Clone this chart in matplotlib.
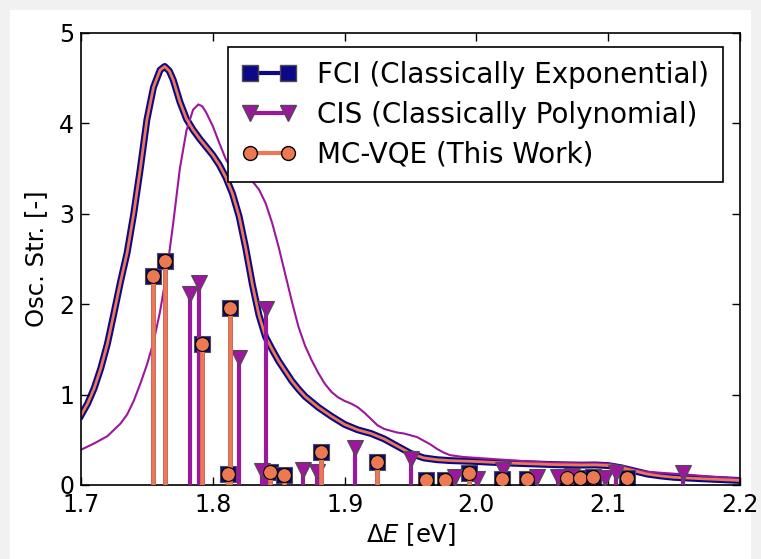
# Oscillator strength spectrum: FCI vs CIS vs MC-VQE

import matplotlib
matplotlib.use('Agg')
import matplotlib.pyplot as plt
from matplotlib.lines import Line2D
from matplotlib.patches import Rectangle

# ------ colours (plasma) ------
c_fci = '#0d0887'
c_cis = '#9c179e'
c_vqe = '#ed7953'

# ------ stick spectra ------
fci_E = [1.7544, 1.7637, 1.7916, 1.8115, 1.8131, 1.8434, 1.8543, 1.8820, 1.9243,
         1.9617, 1.9762, 1.9946, 2.0192, 2.0382, 2.0685, 2.0786, 2.0887, 2.1145]
fci_f = [2.31, 2.48, 1.56, 0.12, 1.96, 0.14, 0.11, 0.36, 0.25,
         0.05, 0.05, 0.13, 0.07, 0.07, 0.08, 0.08, 0.09, 0.08]

vqe_E = [1.7544, 1.7637, 1.7916, 1.8115, 1.8131, 1.8434, 1.8543, 1.8820, 1.9243,
         1.9617, 1.9762, 1.9946, 2.0192, 2.0382, 2.0685, 2.0786, 2.0887, 2.1145]
vqe_f = [2.31, 2.48, 1.56, 0.12, 1.96, 0.14, 0.11, 0.36, 0.25,
         0.05, 0.05, 0.13, 0.07, 0.07, 0.08, 0.08, 0.09, 0.08]

cis_E = [1.7827, 1.7895, 1.8201, 1.8375, 1.8401, 1.8687, 1.8793, 1.9079, 1.9504,
         1.9838, 2.0002, 2.0202, 2.0457, 2.0620, 2.0723, 2.0976, 2.1060, 2.1570]
cis_f = [2.11, 2.23, 1.40, 0.16, 1.95, 0.17, 0.14, 0.41, 0.29,
         0.09, 0.07, 0.17, 0.09, 0.09, 0.10, 0.08, 0.13, 0.13]

# ------ broadened spectra ------
fci_curve_E = [1.700, 1.705, 1.710, 1.715, 1.720, 1.725, 1.730, 1.735, 1.740, 1.745,
               1.750, 1.755, 1.760, 1.7635, 1.767, 1.770, 1.775, 1.780, 1.785, 1.790,
               1.795, 1.800, 1.805, 1.810, 1.815, 1.820, 1.825, 1.830, 1.835, 1.840,
               1.845, 1.850, 1.855, 1.860, 1.865, 1.870, 1.875, 1.880, 1.890, 1.900,
               1.910, 1.920, 1.930, 1.940, 1.950, 1.960, 1.970, 1.980, 2.000, 2.020,
               2.040, 2.060, 2.080, 2.090, 2.100, 2.110, 2.120, 2.130, 2.140, 2.150,
               2.170, 2.200]
fci_curve_f = [0.77, 0.90, 1.07, 1.29, 1.56, 1.90, 2.25, 2.57, 3.00, 3.50,
               4.04, 4.40, 4.59, 4.63, 4.58, 4.48, 4.24, 4.05, 3.93, 3.83,
               3.74, 3.65, 3.54, 3.40, 3.22, 2.97, 2.62, 2.22, 1.88, 1.64,
               1.50, 1.37, 1.26, 1.15, 1.06, 0.98, 0.92, 0.86, 0.76, 0.67,
               0.61, 0.57, 0.51, 0.43, 0.35, 0.30, 0.28, 0.27, 0.26, 0.245,
               0.235, 0.225, 0.22, 0.222, 0.215, 0.19, 0.155, 0.12, 0.10, 0.085,
               0.07, 0.05]

cis_curve_E = [1.700, 1.710, 1.720, 1.730, 1.735, 1.740, 1.745, 1.750, 1.755, 1.760,
               1.765, 1.770, 1.775, 1.780, 1.785, 1.789, 1.792, 1.795, 1.800, 1.805,
               1.810, 1.815, 1.820, 1.825, 1.830, 1.835, 1.840, 1.845, 1.850, 1.855,
               1.860, 1.865, 1.870, 1.875, 1.880, 1.885, 1.890, 1.895, 1.900, 1.905,
               1.910, 1.915, 1.920, 1.925, 1.930, 1.935, 1.940, 1.945, 1.950, 1.955,
               1.960, 1.965, 1.970, 1.975, 1.980, 1.990, 2.000, 2.020, 2.040, 2.060,
               2.080, 2.090, 2.100, 2.110, 2.120, 2.130, 2.140, 2.150, 2.160, 2.180,
               2.200]
cis_curve_f = [0.39, 0.46, 0.54, 0.68, 0.78, 0.93, 1.12, 1.33, 1.58, 1.92,
               2.35, 2.90, 3.50, 3.92, 4.15, 4.21, 4.19, 4.12, 3.97, 3.78,
               3.60, 3.48, 3.42, 3.39, 3.36, 3.27, 3.12, 2.90, 2.63, 2.33,
               2.03, 1.75, 1.54, 1.38, 1.24, 1.12, 1.03, 0.97, 0.93, 0.90,
               0.86, 0.80, 0.73, 0.66, 0.62, 0.60, 0.58, 0.57, 0.55, 0.53,
               0.49, 0.45, 0.40, 0.36, 0.33, 0.31, 0.30, 0.28, 0.26, 0.245,
               0.24, 0.24, 0.235, 0.21, 0.17, 0.145, 0.135, 0.125, 0.115, 0.09,
               0.07]

labels = ['FCI (Classically Exponential)', 'CIS (Classically Polynomial)', 'MC-VQE (This Work)']

fig = plt.figure(figsize=(7.61, 5.59), dpi=100)
fig.patch.set_facecolor('#f1f1f1')
fig.patches.append(Rectangle((10/761, 0), 741/761, 549/559, transform=fig.transFigure,
                             facecolor='white', edgecolor='none', zorder=-10))
ax = fig.add_axes([81/761, 1 - 485/559, 659/761, 452/559])

# broadened curves
ax.plot(fci_curve_E, fci_curve_f, color=c_fci, lw=5, zorder=1)
ax.plot(cis_curve_E, cis_curve_f, color=c_cis, lw=1.5, zorder=1)
ax.plot(fci_curve_E, fci_curve_f, color=c_vqe, lw=2, zorder=1.1)

# sticks
ax.vlines(fci_E, 0, fci_f, color=c_fci, lw=3.3, zorder=2)
ax.plot(fci_E, fci_f, ls='none', marker='s', ms=11.5, mfc=c_fci, mec='0.3', mew=0.8, zorder=2.1)
ax.vlines(cis_E, 0, cis_f, color=c_cis, lw=3, zorder=3)
ax.plot(cis_E, cis_f, ls='none', marker='v', ms=12, mfc=c_cis, mec='0.3', mew=0.8, zorder=3.1)
ax.vlines(vqe_E, 0, vqe_f, color=c_vqe, lw=3.3, zorder=4)
ax.plot(vqe_E, vqe_f, ls='none', marker='o', ms=10, mfc=c_vqe, mec='k', mew=0.8, zorder=4.1)

ax.set_xlim(1.7, 2.2)
ax.set_ylim(0, 5)
ax.set_xticks([1.7, 1.8, 1.9, 2.0, 2.1, 2.2])
ax.set_yticks([0, 1, 2, 3, 4, 5])
ax.tick_params(direction='in', top=True, right=True, length=6, width=1, labelsize=17)
ax.tick_params(axis='x', pad=6)
ax.tick_params(axis='y', pad=5)
for s in ax.spines.values():
    s.set_linewidth(1.2)

ax.set_xlabel(r'$\Delta E$ [eV]', fontsize=17.5, labelpad=3)
ax.set_ylabel('Osc. Str. [-]', fontsize=17.5, labelpad=8)

handles = [
    Line2D([], [], color=c_fci, lw=3, marker='s', ms=11.5, mfc=c_fci, mec='0.3'),
    Line2D([], [], color=c_cis, lw=3, marker='v', ms=12, mfc=c_cis, mec='0.3'),
    Line2D([], [], color=c_vqe, lw=3, marker='o', ms=10, mfc=c_vqe, mec='k'),
]
leg = ax.legend(handles, labels, loc='upper right', bbox_to_anchor=(0.974, 0.969),
                borderaxespad=0, numpoints=2, fontsize=20, fancybox=False,
                edgecolor='k', framealpha=1, handlelength=1.95, handletextpad=0.75,
                labelspacing=0.42, borderpad=0.5)
leg.get_frame().set_linewidth(1.2)
leg.set_zorder(10)

plt.savefig('out.png', dpi=100, facecolor=fig.get_facecolor())
